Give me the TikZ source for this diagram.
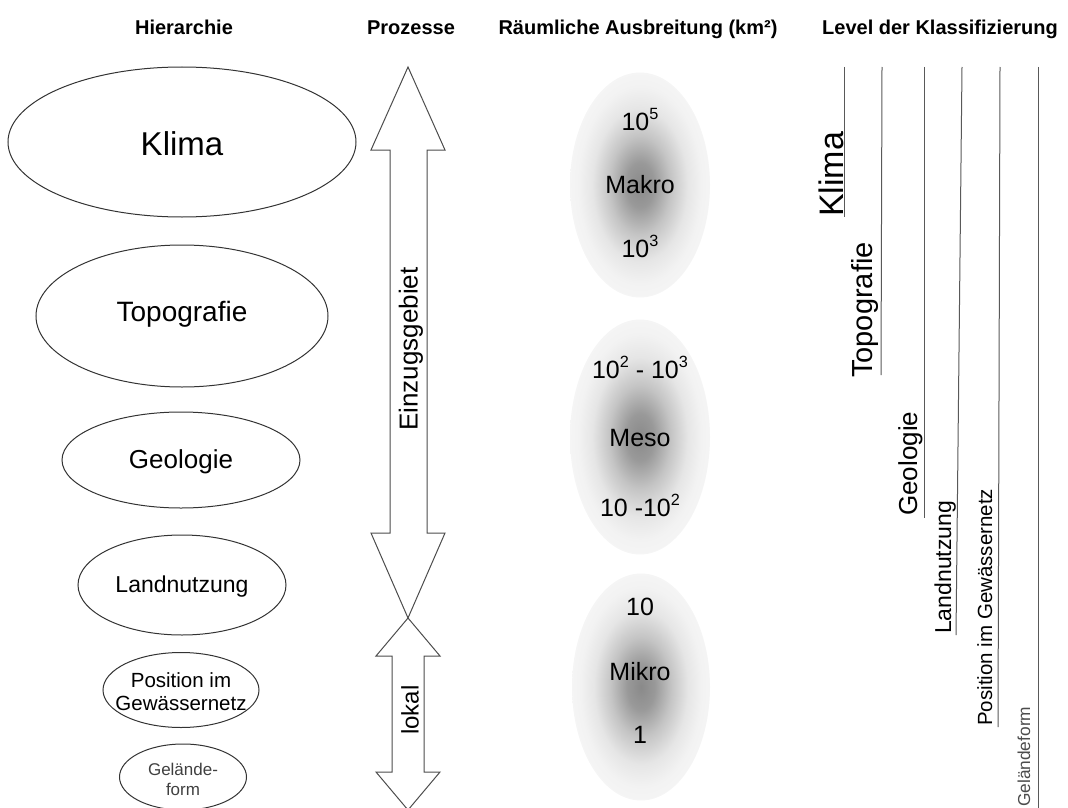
\documentclass[tikz,border=0pt]{standalone}
\usepackage{fontspec}
\setmainfont{Liberation Sans}
\usepackage{graphicx}
\usetikzlibrary{shapes.geometric}

% small raised exponent
\newcommand\hoch[1]{\raisebox{0.42em}{\scalebox{0.65}{#1}}}

% grey cloud for the spatial scales
\pgfdeclareradialshading{wolke}{\pgfpoint{0bp}{0bp}}{%
  color(0bp)=(black!46); color(5bp)=(black!40); color(11bp)=(black!23);
  color(17bp)=(black!10); color(22bp)=(black!5); color(25bp)=(black!4); color(50bp)=(black!4)}

\begin{document}
\begin{tikzpicture}[x=1pt,y=-1pt]
    \tikzset{titel/.style = {font=\fontsize{20}{24}\selectfont\bfseries, anchor=base},
        fs/.style       = {font=\fontsize{#1}{#1}\selectfont},
        hier/.style     = {draw=black!80, line width=1pt, ellipse, inner sep=0pt},
        hiertext/.style = {inner sep=0pt, anchor=base},
        pfeil/.style    = {draw=black!70, line width=1pt, line join=miter},
        wolkenode/.style= {ellipse, inner sep=0pt, shading=wolke},
        zahl/.style     = {fs=25, anchor=base, inner sep=0pt},
        level/.style    = {draw=black!65, line width=1pt},
        lvltext/.style  = {rotate=90, anchor=base west, inner sep=0pt}
        }

    \useasboundingbox (0,0) rectangle (1068,808);

    % Column titles.
    \node[titel] (h1) at (184,35) {Hierarchie};
    \node[titel] (h2) at (411,35) {Prozesse};
    \node[titel] (h3) at (638,35) {Räumliche Ausbreitung (km²)};
    \node[titel] (h4) at (940,35) {Level der Klassifizierung};

    % Hierarchy ellipses.
    \node[hier, minimum width=348pt, minimum height=150pt] (klima) at (182,142) {};
    \node[hiertext, fs=33] (klimatext) at (182,155) {Klima};
    \node[hier, minimum width=292pt, minimum height=142pt] (topo) at (182,316) {};
    \node[hiertext, fs=28] (topotext) at (182,321) {Topografie};
    \node[hier, minimum width=238pt, minimum height=96pt] (geo) at (181,460) {};
    \node[hiertext, fs=26] (geotext) at (181,468) {Geologie};
    \node[hier, minimum width=208pt, minimum height=100pt] (land) at (182,585) {};
    \node[hiertext, fs=23] (landtext) at (182,592) {Landnutzung};
    \node[hier, minimum width=156pt, minimum height=75pt] (pos) at (181,690) {};
    \node[inner sep=0pt, align=center, font=\fontsize{20.5}{23}\selectfont] (postext) at (181,692) {Position im\\Gewässernetz};
    \node[hier, minimum width=127pt, minimum height=66pt] (form) at (183,777) {};
    \node[inner sep=0pt, align=center, text=black!75, font=\fontsize{17}{20}\selectfont] (formtext) at (183,779) {Gelände-\\form};

    % Process arrows.
    \draw[pfeil] (408,67) -- (445,150) -- (427,150) -- (427,533) -- (445,533) -- (408,618)
        -- (371,533) -- (390,533) -- (390,150) -- (371,150) -- cycle;
    \node[fs=26, rotate=90, inner sep=0pt] (einzug) at (411,349) {Einzugsgebiet};
    \draw[pfeil] (408,618) -- (440,656) -- (424,656) -- (424,772) -- (440,772) -- (408,810)
        -- (376,772) -- (392,772) -- (392,656) -- (376,656) -- cycle;
    \node[fs=24, rotate=90, inner sep=0pt] (lokal) at (410,710) {lokal};

    % Spatial scales.
    \node[wolkenode, minimum width=140pt, minimum height=225pt] (makro) at (640,185) {};
    \node[zahl] (mak1) at (640,130) {10\hoch{5}};
    \node[zahl] (mak2) at (640,193) {Makro};
    \node[zahl] (mak3) at (640,257) {10\hoch{3}};

    \node[wolkenode, minimum width=140pt, minimum height=235pt] (meso) at (640,437) {};
    \node[zahl] (mes1) at (640,378) {10\hoch{2} - 10\hoch{3}};
    \node[zahl] (mes2) at (640,446) {Meso};
    \node[zahl] (mes3) at (640,516) {10 -10\hoch{2}};

    \node[wolkenode, minimum width=138pt, minimum height=227pt] (mikro) at (641,687) {};
    \node[zahl] (mik1) at (640,615) {10};
    \node[zahl] (mik2) at (640,680) {Mikro};
    \node[zahl] (mik3) at (640,743) {1};

    % Classification levels.
    \draw[level] (844,67) -- (844,217);
    \node[lvltext, fs=34] (lv1) at (843,217) {Klima};
    \draw[level] (882,67) -- (881,375);
    \node[lvltext, fs=29] (lv2) at (872,378) {Topografie};
    \draw[level] (924,67) -- (924,518);
    \node[lvltext, fs=26] (lv3) at (917,516) {Geologie};
    \draw[level] (962,67) -- (956,635);
    \node[lvltext, fs=23] (lv4) at (951,634) {Landnutzung};
    \draw[level] (1000,67) -- (998,727);
    \node[lvltext, fs=20.5] (lv5) at (992,726) {Position im Gewässernetz};
    \draw[level] (1038,67) -- (1038,808);
    \node[lvltext, fs=17.3, text=black!70] (lv6) at (1030,807) {Geländeform};
\end{tikzpicture}
\end{document}
